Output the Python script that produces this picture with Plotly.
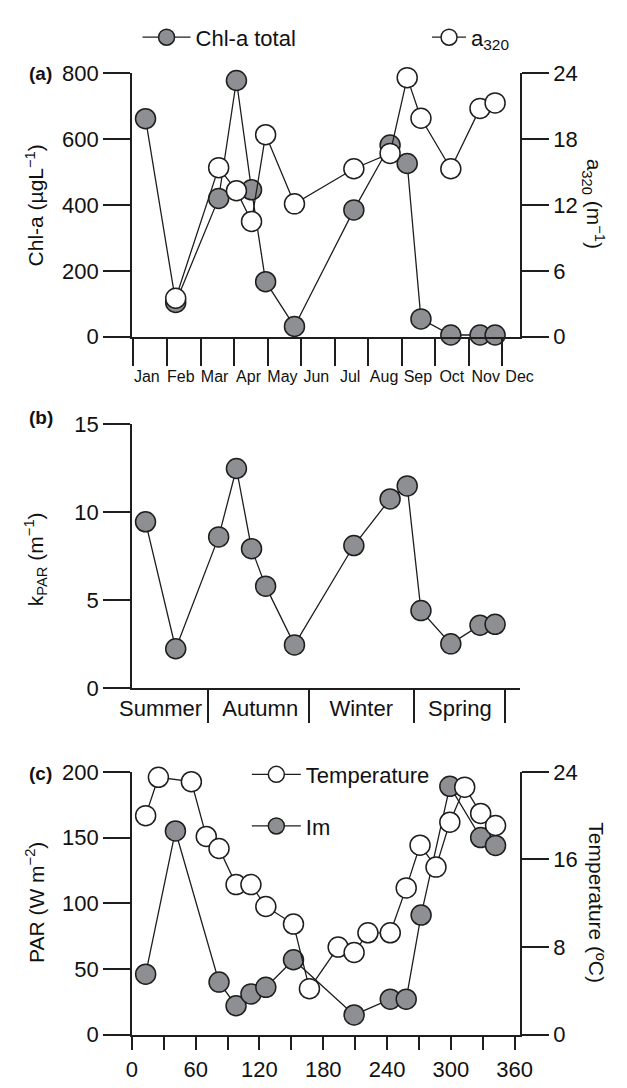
import plotly.graph_objects as go
import numpy as np

# ---------------- data ----------------
MONTHS = ["Jan", "Feb", "Mar", "Apr", "May", "Jun", "Jul", "Aug", "Sep", "Oct", "Nov", "Dec"]
SEASONS = ["Summer", "Autumn", "Winter", "Spring"]

# panel (a): sampling dates in month units (0 = 1 Jan)
CHL_MONTH = [0.36, 1.26, 2.54, 3.07, 3.52, 3.94, 4.80, 6.57, 7.65, 8.16, 8.57, 9.46, 10.33, 10.78]
CHL_TOTAL = [662, 104, 420, 778, 446, 167, 31, 385, 582, 526, 54, 5, 5, 5]
A320_MONTH = [1.26, 2.54, 3.07, 3.52, 3.94, 4.80, 6.57, 7.65, 8.16, 8.57, 9.46, 10.33, 10.78]
A320 = [3.5, 15.4, 13.3, 10.5, 18.4, 12.1, 15.3, 16.7, 23.6, 19.9, 15.3, 20.8, 21.3]

# panel (b)
KPAR = [9.44, 2.22, 8.58, 12.47, 7.91, 5.78, 2.44, 8.09, 10.74, 11.48, 4.39, 2.50, 3.56, 3.61]
SEASON_BOUNDS = [2.22, 5.22, 8.35, 11.09]
SEASON_CENTERS = [0.81, 3.78, 6.79, 9.73]

# panel (c): day of year
TEMP_DAY = [13, 25, 56, 70, 82, 98, 112, 126, 152, 167, 194, 209, 222, 243, 258, 271, 286, 299, 313, 328, 342]
TEMP = [20.0, 23.5, 23.1, 18.1, 17.0, 13.7, 13.7, 11.7, 10.1, 4.2, 8.0, 7.5, 9.3, 9.3, 13.4, 17.3, 15.3, 19.4, 22.6, 20.2, 19.1]
IM_DAY = [13, 41, 82, 98, 112, 126, 152, 209, 243, 258, 272, 299, 328, 342]
IM = [46, 155, 40, 22, 31, 36, 57, 15, 27, 27, 91, 189, 150, 144]

# ---------------- layout helpers ----------------
W, H = 627, 1088
FONT = "Liberation Sans, Arial, Helvetica, sans-serif"
INK = "#1e1e1e"
GRAY = "#8e8f93"


def px_x(p):
    return p / W


def px_y(p):
    return 1 - p / H


X_DOM = [px_x(125), px_x(530)]
A_DOM = [px_y(332.3), px_y(62.7)]
B_DOM = [px_y(691.7), px_y(421.7)]
C_DOM = [px_y(1046.7), px_y(777.7)]

MXMIN = -1.7 / 35
MXMAX = MXMIN + 405 / 35
MONTH_POS = list(np.arange(12) * 1.01 + 0.40)

line_style = dict(color=INK, width=1.3)
gray_marker = dict(size=20, color=GRAY, line=dict(color=INK, width=1.5))
white_marker = dict(size=20, color="white", line=dict(color=INK, width=1.5))

fig = go.Figure()

fig.add_trace(go.Scatter(x=CHL_MONTH, y=CHL_TOTAL, mode="lines+markers", name="Chl-a total",
                         line=line_style, marker=gray_marker, xaxis="x", yaxis="y",
                         cliponaxis=False, legend="legend"))
fig.add_trace(go.Scatter(x=A320_MONTH, y=A320, mode="lines+markers", name="a<sub>320</sub>",
                         line=line_style, marker=white_marker, xaxis="x", yaxis="y2",
                         cliponaxis=False, legend="legend3"))
fig.add_trace(go.Scatter(x=CHL_MONTH, y=KPAR, mode="lines+markers", name="kPAR",
                         line=line_style, marker=gray_marker, xaxis="x2", yaxis="y3",
                         cliponaxis=False, showlegend=False))
fig.add_trace(go.Scatter(x=IM_DAY, y=IM, mode="lines+markers", name="Im",
                         line=line_style, marker=gray_marker, xaxis="x3", yaxis="y4",
                         cliponaxis=False, legend="legend2", legendrank=2, legendgroup="im"))
fig.add_trace(go.Scatter(x=TEMP_DAY, y=TEMP, mode="lines+markers", name="Temperature",
                         line=line_style, marker=white_marker, xaxis="x3", yaxis="y5",
                         cliponaxis=False, legend="legend2", legendrank=1, legendgroup="temp"))

TICKFONT = dict(family=FONT, size=22, color="#111")
axis_common = dict(showline=True, linecolor=INK, linewidth=1.5, showgrid=False, zeroline=False,
                   ticks="outside", tickcolor=INK, tickwidth=1.5, tickfont=TICKFONT)

yax = dict(axis_common, ticklen=27)

legend_common = dict(bgcolor="rgba(0,0,0,0)", font=dict(family=FONT, size=22, color="#111"),
                     itemsizing="trace")

fig.update_layout(
    width=W, height=H,
    margin=dict(l=0, r=0, t=0, b=0),
    paper_bgcolor="white", plot_bgcolor="rgba(0,0,0,0)",
    font=dict(family=FONT, color="#111"),
    xaxis=dict(axis_common, domain=X_DOM, anchor="y", range=[MXMIN, MXMAX],
               tickmode="array", tickvals=MONTH_POS, ticktext=MONTHS,
               ticklen=24, tickcolor="rgba(0,0,0,0)",
               tickfont=dict(family=FONT, size=16, color="#111"),
               minor=dict(ticks="outside", tickmode="linear", tick0=0, dtick=1,
                          ticklen=28, tickcolor=INK, tickwidth=1.5, showgrid=False)),
    yaxis=dict(yax, domain=A_DOM, anchor="x", range=[0, 800], tickmode="array",
               tickvals=[0, 200, 400, 600, 800]),
    yaxis2=dict(yax, overlaying="y", side="right", anchor="x", range=[0, 24], tickmode="array",
                tickvals=[0, 6, 12, 18, 24]),
    xaxis2=dict(axis_common, domain=X_DOM, anchor="y3", range=[MXMIN, MXMAX],
                tickmode="array", tickvals=SEASON_CENTERS, ticktext=SEASONS,
                ticklen=0, tickcolor="rgba(0,0,0,0)",
                minor=dict(ticks="outside", tickmode="array", tickvals=SEASON_BOUNDS,
                           ticklen=33, tickcolor=INK, tickwidth=1.5, showgrid=False)),
    yaxis3=dict(yax, domain=B_DOM, anchor="x2", range=[0, 15], tickmode="array",
                tickvals=[0, 5, 10, 15]),
    xaxis3=dict(axis_common, domain=X_DOM, anchor="y4", range=[0, 365],
                tickmode="linear", tick0=0, dtick=60, ticklen=14,
                minor=dict(ticks="outside", tickmode="linear", tick0=0, dtick=30,
                           ticklen=14, tickcolor=INK, tickwidth=1.5, showgrid=False)),
    yaxis4=dict(yax, domain=C_DOM, anchor="x3", range=[0, 200], tickmode="array",
                tickvals=[0, 50, 100, 150, 200]),
    yaxis5=dict(yax, overlaying="y4", side="right", anchor="x3", range=[0, 24], tickmode="array",
                tickvals=[0, 8, 16, 24]),
    legend=dict(legend_common, orientation="h", x=px_x(131), xanchor="left",
                y=px_y(26), yanchor="middle", itemwidth=48),
    legend3=dict(legend_common, orientation="h", x=px_x(433), xanchor="left",
                 y=px_y(26), yanchor="middle", itemwidth=34),
    legend2=dict(legend_common, orientation="v", x=px_x(245), xanchor="left",
                 y=px_y(759), yanchor="top", tracegroupgap=20, itemwidth=49),
)

ann = []
title_font = dict(family=FONT, size=21, color="#111")
for text, x, y, ang in [
    ("Chl-a (µgL<sup>−1</sup>)", 24, 198, -90),
    ("a<sub>320</sub> (m<sup>−1</sup>)", 607, 196, 90),
    ("k<sub>PAR</sub> (m<sup>−1</sup>)", 24, 560, -90),
    ("PAR (W m<sup>−2</sup>)", 24, 912, -90),
    ("Temperature (ºC)", 610, 912, 90),
]:
    ann.append(dict(text=text, x=px_x(x), y=px_y(y), xref="paper", yref="paper",
                    xanchor="center", yanchor="middle", textangle=ang, showarrow=False,
                    font=title_font))
for text, y in [("(a)", 63), ("(b)", 415), ("(c)", 779)]:
    ann.append(dict(text="<b>" + text + "</b>", x=px_x(16), y=px_y(y), xref="paper", yref="paper",
                    xanchor="left", yanchor="middle", showarrow=False,
                    font=dict(family=FONT, size=19, color="#111")))
fig.update_layout(annotations=ann)

fig.write_html("out.html")
